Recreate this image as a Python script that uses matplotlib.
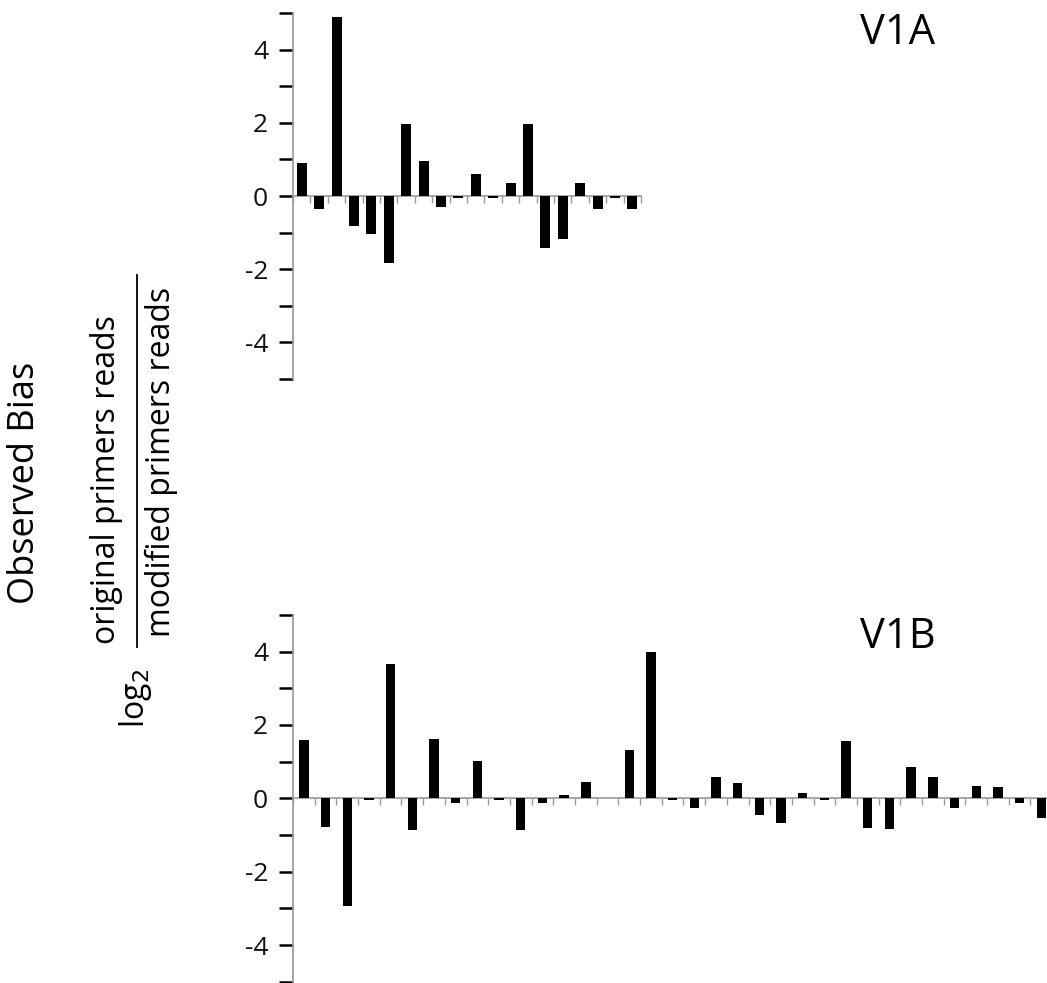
import matplotlib.pyplot as plt
import numpy as np

plt.rcParams['font.family'] = ['Open Sans', 'DejaVu Sans']

v1a = [0.91, -0.36, 4.89, -0.81, -1.05, -1.83, 1.98, 0.96, -0.29, -0.05,
       0.60, -0.05, 0.36, 1.98, -1.42, -1.18, 0.36, -0.36, -0.05, -0.36]
v1b = [1.58, -0.78, -2.94, -0.05, 3.67, -0.86, 1.61, -0.14, 1.02, -0.05,
       -0.86, -0.14, 0.08, 0.45, 0.0, 1.32, 3.99, -0.05, -0.25, 0.58,
       0.42, -0.46, -0.66, 0.14, -0.05, 1.56, -0.80, -0.83, 0.86, 0.58,
       -0.27, 0.35, 0.32, -0.14, -0.53]
titles = ['V1A', 'V1B']
yticks = [-4, -2, 0, 2, 4]

fig = plt.figure(figsize=(10.47, 9.83), dpi=100)
ax1 = fig.add_axes([0.2799, 0.6144, 0.3324, 0.3724])
ax2 = fig.add_axes([0.2799, 0.0013, 0.7250, 0.3731])


def draw(ax, vals, width, title, tx, ty):
    n = len(vals)
    x = np.arange(n) + 0.5
    ax.bar(x, vals, width=width, color='black', zorder=3)
    ax.set_xlim(0, n)
    ax.set_ylim(-5, 5)
    for s in ['top', 'right']:
        ax.spines[s].set_visible(False)
    ax.spines['left'].set_color('#9a9a9a')
    ax.spines['left'].set_linewidth(1.2)
    ax.spines['bottom'].set_position(('data', 0))
    ax.spines['bottom'].set_color('#9a9a9a')
    ax.spines['bottom'].set_linewidth(1.2)
    ax.set_yticks(range(-5, 6))
    ax.set_yticklabels([str(v) if v in yticks else '' for v in range(-5, 6)])
    ax.tick_params(axis='y', direction='out', length=10, width=1.8,
                   color='black', labelsize=19, pad=8, labelcolor='#111111')
    ax.set_xticks(np.arange(n + 1))
    ax.set_xticklabels([])
    ax.tick_params(axis='x', direction='out', length=5, width=1,
                   color='#9a9a9a')
    ax.text(tx, ty, title, transform=ax.transAxes, fontsize=30,
            ha='center', va='center')


draw(ax1, v1a, 0.58, titles[0], 1.736, 0.945)
draw(ax2, v1b, 0.43, titles[1], 0.797, 0.940)

# y-axis label with fraction
fig.text(25 / 1047, 1 - 483 / 983, 'Observed Bias', rotation=90,
         fontsize=26, ha='center', va='center')
fig.text(107 / 1047, 1 - 480 / 983, 'original primers reads', rotation=90,
         fontsize=23, ha='center', va='center')
fig.text(161 / 1047, 1 - 462 / 983, 'modified primers reads', rotation=90,
         fontsize=23, ha='center', va='center')
fig.add_artist(plt.Line2D([137 / 1047, 137 / 1047],
                          [1 - 275 / 983, 1 - 647 / 983],
                          color='black', lw=1.3))
fig.text(136 / 1047, 1 - 698 / 983, r'log$_2$', rotation=90,
         fontsize=23, ha='center', va='center')

plt.savefig('out.png', dpi=100)
